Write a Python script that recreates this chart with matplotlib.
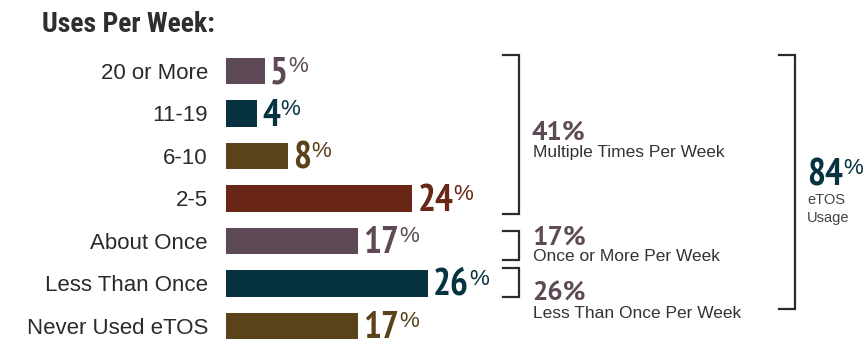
import matplotlib
matplotlib.use("Agg")
import matplotlib.pyplot as plt
from matplotlib.lines import Line2D

# ---- data ----
categories = ["20 or More", "11-19", "6-10", "2-5", "About Once",
              "Less Than Once", "Never Used eTOS"]
values = [5, 4, 8, 24, 17, 26, 17]

summary_values = [41, 17, 26]
summary_labels = ["Multiple Times Per Week", "Once or More Per Week",
                  "Less Than Once Per Week"]
total_value = 84
total_label = ["eTOS", "Usage"]

MAUVE = "#5e4a56"
TEAL = "#073341"
BROWN = "#5a421b"
RUST = "#6b2715"
bar_colors = [MAUVE, TEAL, BROWN, RUST, MAUVE, TEAL, BROWN]

W, H = 868, 339
fig = plt.figure(figsize=(W / 100, H / 100), dpi=100)
fig.patch.set_facecolor("white")

NARROW = "PT Sans Narrow"
SANS = "Liberation Sans"

# ---- bar axes ----
px_per_pct = 7.75
ax_left, ax_w = 226, px_per_pct * 30
ax_top = 49.75
ax = fig.add_axes([ax_left / W, 0, ax_w / W, (H - ax_top) / H])
ax.set_xlim(0, 30)
ax.set_ylim(6.306, -0.5)
bar_h = 0.635
ypos = list(range(len(categories)))
ax.barh(ypos, values, height=bar_h, color=bar_colors, zorder=2)
ax.set_yticks(ypos)
ax.set_yticklabels(categories, fontsize=16, family=SANS, color="#2a2a2a")
ax.tick_params(axis="y", length=0, pad=13)
ax.set_xticks([])
for s in ax.spines.values():
    s.set_visible(False)
ax.patch.set_alpha(0)


def value_label(target, x, y, text, color, **kw):
    """Bold condensed number followed by a raised percent sign."""
    num = target.annotate(text, xy=(x, y), xytext=(4, 0),
                          textcoords="offset points", ha="left",
                          va="baseline", fontsize=27, fontweight="bold",
                          family=NARROW, color=color, annotation_clip=False,
                          **kw)
    target.annotate("%", xy=(1.0, 1.0), xycoords=num, xytext=(0, 0),
                    textcoords="offset points", ha="left", va="top",
                    fontsize=16, family=SANS, color=color)
    return num


for y, v, c in zip(ypos, values, bar_colors):
    value_label(ax, v, y + 0.285, str(v), c)

# ---- title ----
fig.text(42 / W, 1 - 32 / H, "Uses Per Week:", fontsize=20, fontweight="bold",
         family="Roboto Condensed", color="#2e2e2e", ha="left", va="baseline")

# ---- summary brackets and labels ----
ov = fig.add_axes([0, 0, 1, 1], zorder=-1)
ov.set_xlim(0, W)
ov.set_ylim(H, 0)
ov.axis("off")


def bracket(x, x_left, y0, y1):
    ov.add_line(Line2D([x_left, x, x, x_left], [y0, y0, y1, y1],
                       color="#2b2b2b", lw=1.6, solid_joinstyle="miter"))


bracket(519, 503, 55, 214)
bracket(519, 503, 231, 260)
bracket(519, 503, 268, 297)
bracket(795, 779, 55, 309)

num_base = [140, 245, 301]
lab_base = [157, 261, 318]
for v, lab, yb, yl in zip(summary_values, summary_labels, num_base, lab_base):
    ov.text(532, yb, f"{v}%", fontsize=19.5, fontweight="bold", family="PT Sans",
            color=MAUVE, ha="left", va="baseline")
    ov.text(533, yl, lab, fontsize=12.5, family=SANS, color="#333333",
            ha="left", va="baseline")

value_label(ov, 802, 185, str(total_value), TEAL)
ov.text(807, 204, total_label[0], fontsize=10.5, family=SANS, color="#444444",
        ha="left", va="baseline")
ov.text(807, 222, total_label[1], fontsize=10.5, family=SANS, color="#444444",
        ha="left", va="baseline")

fig.savefig("out.png", dpi=100, facecolor="white")
